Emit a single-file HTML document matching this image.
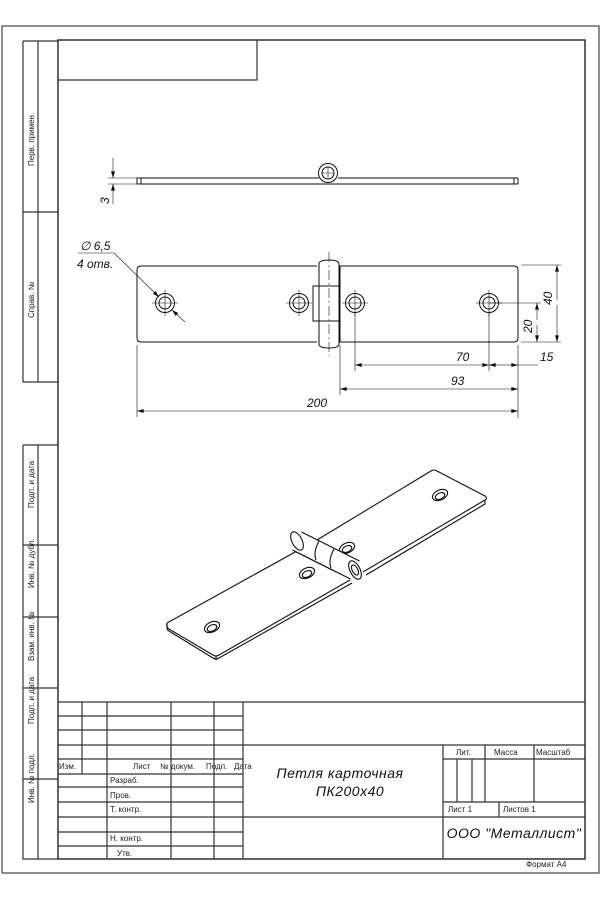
<!DOCTYPE html>
<html><head><meta charset="utf-8"><style>
html,body{margin:0;padding:0;background:#fff;}
svg{display:block;}
.t{font-family:"Liberation Sans",sans-serif;font-size:8px;fill:#222;}
.d{font-family:"Liberation Sans",sans-serif;font-style:italic;fill:#111;}
</style></head><body>
<svg width="600" height="900" viewBox="0 0 600 900" xmlns="http://www.w3.org/2000/svg">
<defs>
<marker id="a" viewBox="0 0 10 6" refX="10" refY="3" markerWidth="8" markerHeight="4" orient="auto-start-reverse" markerUnits="userSpaceOnUse"><path d="M0,0L10,3L0,6z" fill="#111"/></marker>
</defs>
<g fill="none" stroke="#333" stroke-width="1.2">
<rect x="2" y="26" width="597" height="847" stroke="#444"/>
<rect x="58" y="40" width="527" height="819" stroke="#222" stroke-width="1.4"/>
<path d="M58,80H257V40"/>
<path d="M23,41V382H58M38,41V382M23,41H58M23,212H58"/>
<path d="M23,445V859H58M38,445V859M23,445H58M23,545H58M23,617H58M23,688H58M23,779H58"/>
<path d="M58,702H585M58,716H243M58,730H243M58,745H585M58,759H243M58,774H243M58,787H243M58,802H243M58,817H585M58,832H243M58,846H243"/>
<path d="M82,702V774M107,702V859M171,702V859M214,702V859M243,702V859M443,745V859"/>
<path d="M443,759H585M443,802H585M485,745V802M534,745V802M457,759V802M472,759V802M499,802V817"/>
</g>
<g class="t">
<text transform="translate(34,166) rotate(-90)">Перв. примен.</text>
<text transform="translate(34,318) rotate(-90)">Справ. №</text>
<text transform="translate(34,508) rotate(-90)">Подп. и дата</text>
<text transform="translate(34,588) rotate(-90)">Инв. № дубл.</text>
<text transform="translate(34,661) rotate(-90)">Взам. инв. №</text>
<text transform="translate(34,724) rotate(-90)">Подп. и дата</text>
<text transform="translate(34,803) rotate(-90)">Инв. № подл.</text>
<text x="59" y="769">Изм.</text>
<text x="133" y="769">Лист</text>
<text x="160" y="769">№ докум.</text>
<text x="206" y="769">Подп.</text>
<text x="234" y="769">Дата</text>
<text x="110" y="783">Разраб.</text>
<text x="110" y="798">Пров.</text>
<text x="110" y="812">Т. контр.</text>
<text x="110" y="841">Н. контр.</text>
<text x="117" y="856">Утв.</text>
<text x="456" y="755">Лит.</text>
<text x="494" y="755">Масса</text>
<text x="536" y="755">Масштаб</text>
<text x="448" y="812">Лист 1</text>
<text x="503" y="812">Листов 1</text>
<text x="526" y="867">Формат А4</text>
</g>
<text class="d" x="340" y="778" font-size="14" text-anchor="middle" letter-spacing="0.5">Петля карточная</text>
<text class="d" x="350" y="796" font-size="14" text-anchor="middle" letter-spacing="0.5">ПК200х40</text>
<text class="d" x="514" y="838" font-size="14" text-anchor="middle" letter-spacing="0.5">ООО "Металлист"</text>

<!-- top view -->
<g fill="none" stroke="#111" stroke-width="1">
<path d="M137,178H319M338,178H518M137,184H518M137,178V184M518,178V184"/>
<path d="M141,178V184M514,178V184"/>
<circle cx="328" cy="173" r="9.5" fill="#fff"/>
<circle cx="328" cy="173" r="6"/>
<path d="M322,173h12M328,167v12" stroke-width="0.6"/>
<path d="M108,178H137M108,184H137" stroke-width="0.6"/>
<path d="M113,158V178" stroke-width="0.6" marker-end="url(#a)"/>
<path d="M113,204V184" stroke-width="0.6" marker-end="url(#a)"/>
</g>
<text class="d" transform="translate(109,204) rotate(-90)" font-size="12">3</text>

<!-- front view -->
<g fill="none" stroke="#111" stroke-width="1">
<path d="M317,266H141Q137,266 137,270V338Q137,342 141,342H317"/>
<path d="M340,266H514Q518,266 518,270V338Q518,342 514,342H340Z"/>
<path d="M319,286V264Q319,260 329,260Q339,260 339,264V286"/>
<path d="M319,321V344Q319,348 329,348Q339,348 339,344V321"/>
<rect x="313" y="286" width="26" height="35"/>
<path d="M319,286V321"/>
<path d="M329,252V356" stroke-width="0.6" stroke-dasharray="10,3,2,3"/>
<circle cx="165" cy="303" r="9.5"/><circle cx="165" cy="303" r="6"/>
<circle cx="299" cy="303" r="9.5"/><circle cx="299" cy="303" r="6"/>
<circle cx="355" cy="303" r="9.5"/><circle cx="355" cy="303" r="6"/>
<circle cx="489" cy="303" r="9.5"/><circle cx="489" cy="303" r="6"/>
<g stroke-width="0.6">
<path d="M152,303h26M165,290v26M286,303h26M299,290v26M342,303h26M355,290v26M476,303h26M489,290v26"/>
<path d="M521,265H561M521,342H561M489,303H541"/>
<path d="M557,300V265" marker-end="url(#a)"/><path d="M557,305V342" marker-end="url(#a)"/>
<path d="M537,320V303" marker-end="url(#a)"/><path d="M537,325V342" marker-end="url(#a)"/>
<path d="M355,312V371M489,312V371M518,345V418M340,345V395M137,345V417"/>
<path d="M420,365H355" marker-end="url(#a)"/><path d="M420,365H489" marker-end="url(#a)"/>
<path d="M503,365H489" marker-end="url(#a)"/><path d="M503,365H518" marker-end="url(#a)"/>
<path d="M518,365H538"/>
<path d="M430,389H340" marker-end="url(#a)"/><path d="M430,389H518" marker-end="url(#a)"/>
<path d="M330,411H137" marker-end="url(#a)"/><path d="M330,411H518" marker-end="url(#a)"/>
<path d="M78,253H114"/><path d="M114,253L159,297" marker-end="url(#a)"/>
<path d="M185,322L172,310" marker-end="url(#a)"/>
</g>
</g>
<g class="d" font-size="12">
<text transform="translate(552,305) rotate(-90)">40</text>
<text transform="translate(532,333) rotate(-90)">20</text>
<text x="456" y="361">70</text>
<text x="540" y="361">15</text>
<text x="451" y="385">93</text>
<text x="307" y="407">200</text>
<text x="80" y="250">∅ 6,5</text>
<text x="77" y="268">4 отв.</text>
</g>

<!-- isometric -->
<g fill="none" stroke="#111" stroke-width="1.1" stroke-linejoin="round">
<path d="M167,623L297,551M317,540L431,471Q434,469 437,471L485,496Q488,498 485,500L363,572"/>
<path d="M485,500V504L366,575"/>
<path d="M350,580L219,655Q216,657 213,655L169,629Q166,627 167,623"/>
<path d="M167,623V628Q167,630 169,631L213,658Q216,660 219,658L352,583"/>
<path d="M216,656V660"/>
<ellipse cx="440" cy="495" rx="8" ry="5" transform="rotate(-25 440 495)"/>
<ellipse cx="440" cy="496" rx="5" ry="3" transform="rotate(-25 440 496)"/>
<ellipse cx="347" cy="548" rx="8" ry="5" transform="rotate(-25 347 548)"/>
<ellipse cx="347" cy="549" rx="5" ry="3" transform="rotate(-25 347 549)"/>
<ellipse cx="307" cy="573" rx="8" ry="5" transform="rotate(-25 307 573)"/>
<ellipse cx="307" cy="574" rx="5" ry="3" transform="rotate(-25 307 574)"/>
<ellipse cx="212" cy="627" rx="8" ry="5" transform="rotate(-25 212 627)"/>
<ellipse cx="212" cy="628" rx="5" ry="3" transform="rotate(-25 212 628)"/>
<!-- hinge cylinder -->
<path d="M301.5,532L359.5,561L350.5,579L292.5,550Z" fill="#fff" stroke="none"/>
<ellipse cx="297" cy="541" rx="5" ry="10" transform="rotate(-27 297 541)" fill="#fff"/>
<path d="M301.5,532L359.5,561M292.5,550L350.5,579"/>
<path d="M319,541Q313,552 316,560M334,549Q328,560 331,568"/>
<path d="M296,552L334,571" stroke-width="0.8"/>
<ellipse cx="355" cy="570" rx="5" ry="10" transform="rotate(-27 355 570)" fill="#fff"/>
<ellipse cx="355" cy="570" rx="2.8" ry="5.5" transform="rotate(-27 355 570)"/>
</g>
</svg>
</body></html>
